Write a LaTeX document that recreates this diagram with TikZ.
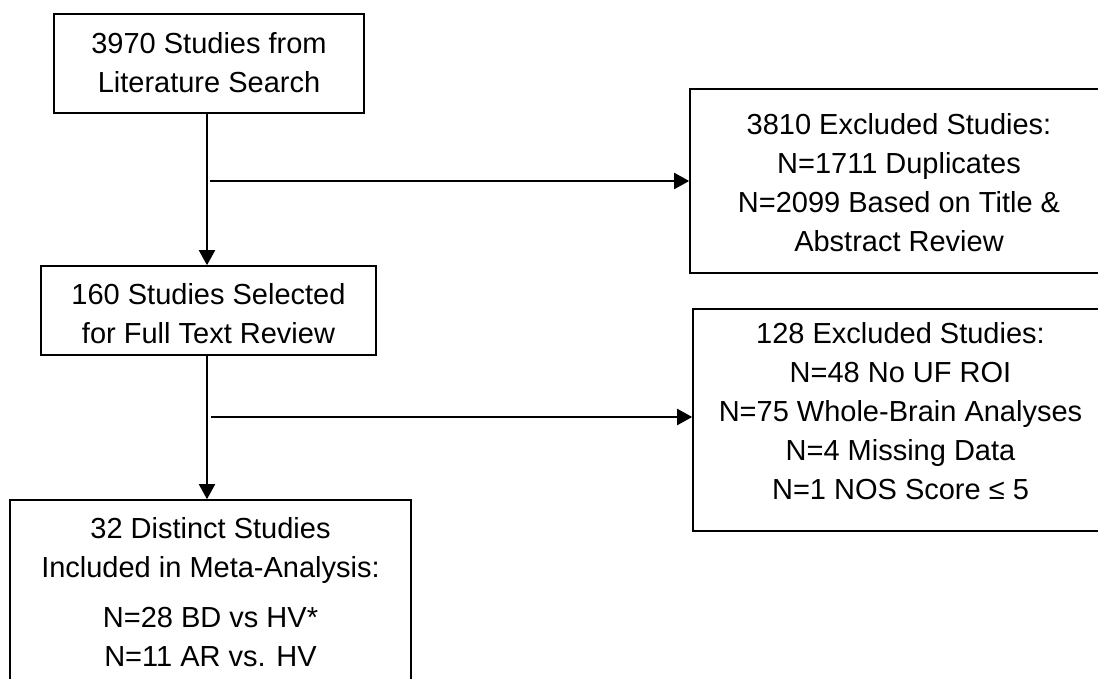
\documentclass[tikz,border=0pt]{standalone}
\usepackage{fontspec}
\setmainfont{Liberation Sans}
\usetikzlibrary{arrows.meta}
\begin{document}
\begin{tikzpicture}[x=1pt,y=-1pt,
  box/.style={draw,line width=1.6pt,inner sep=0pt},
  txt/.style={align=center,font=\fontsize{29}{39}\selectfont,inner sep=0pt},
  arr/.style={line width=2pt,-{Triangle[length=15pt,width=16pt]}},
  conn/.style={line width=2pt}]
\useasboundingbox (0,0) rectangle (1098,679);
% boxes
\node[box,minimum width=310pt,minimum height=99pt] (b1) at (209,63.5) {};
\node[box,minimum width=335pt,minimum height=89pt] (b2) at (208.5,310.5) {};
\node[box,minimum width=401pt,minimum height=200pt] (b3) at (210.5,600) {};
\node[box,minimum width=418pt,minimum height=184pt] (e1) at (899,181) {};
\node[box,minimum width=415pt,minimum height=222pt] (e2) at (900.5,420) {};
% texts
\node[txt] (t1) at (209,63) {3970 Studies from\\Literature Search};
\node[txt] (t2) at (208.5,314) {160 Studies Selected\\for Full Text Review};
\node[txt] (t3) at (210.5,592) {32 Distinct Studies\\Included in Meta-Analysis:\\[11pt]N=28 BD vs HV*\\N=11 AR vs. HV};
\node[txt] (t4) at (899,183) {3810 Excluded Studies:\\N=1711 Duplicates\\N=2099 Based on Title \&\\Abstract Review};
\node[txt] (t5) at (900.5,411) {128 Excluded Studies:\\N=48 No UF ROI\\N=75 Whole-Brain Analyses\\N=4 Missing Data\\N=1 NOS Score ≤ 5};
% connectors
\coordinate (v) at (207,0);
\coordinate (c1) at (210,181);
\coordinate (c2) at (211,417);
\draw[arr] (b1.south -| v) -- (b2.north -| v);
\draw[arr] (b2.south -| v) -- (b3.north -| v);
\draw[arr] (c1) -- (c1 -| e1.west);
\draw[arr] (c2) -- (c2 -| e2.west);
\end{tikzpicture}
\end{document}
